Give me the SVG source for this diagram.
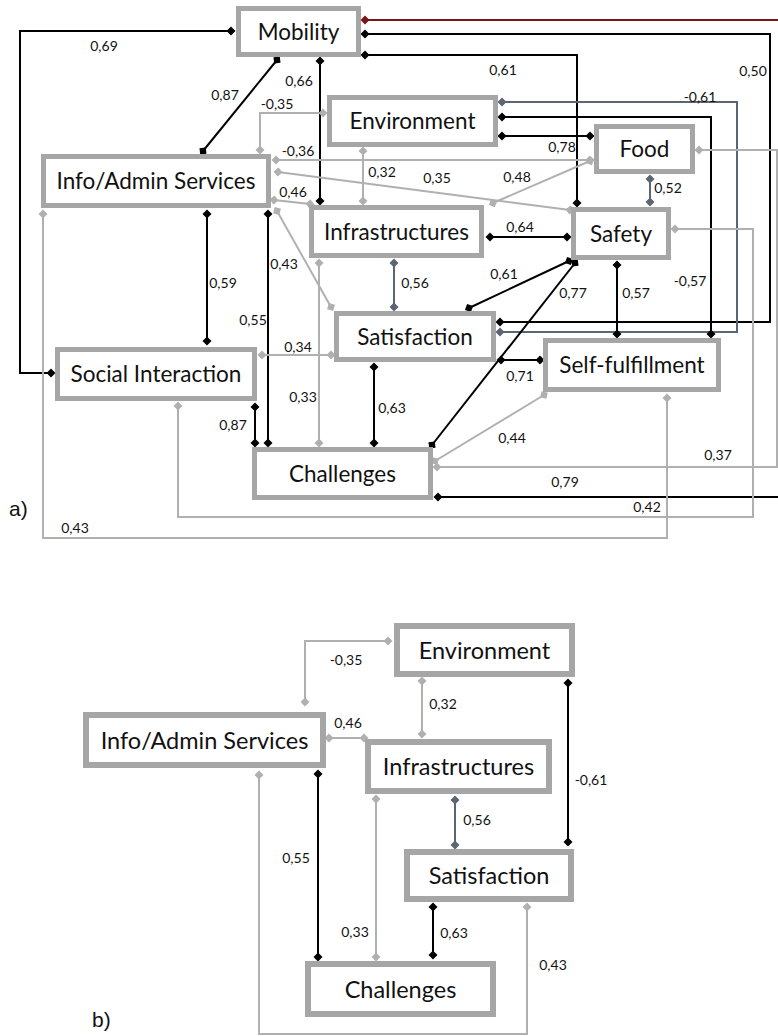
<svg xmlns="http://www.w3.org/2000/svg" width="778" height="1036" viewBox="0 0 778 1036">
<style>
.box{fill:#fff;stroke:#a6a6a6;stroke-width:5}
.boxb{fill:#fff;stroke:#a6a6a6;stroke-width:6}
.nt{font-family:Lato,"Open Sans",sans-serif;font-size:22.5px;fill:#111;text-anchor:middle}
.ntb{font-family:Lato,"Open Sans",sans-serif;font-size:23.5px;fill:#111;text-anchor:middle}
.lb{font-family:Lato,"Open Sans",sans-serif;font-size:14px;fill:#111;text-anchor:middle}
.pl{font-family:"Liberation Sans",Arial,sans-serif;font-size:21px;fill:#111}
.k{fill:none;stroke:#000;stroke-width:2;marker-start:url(#mk);marker-end:url(#mk)}
.g{fill:none;stroke:#b0b0b0;stroke-width:2;marker-start:url(#mg);marker-end:url(#mg)}
.s{fill:none;stroke:#5c6572;stroke-width:2;marker-start:url(#ms);marker-end:url(#ms)}
.r{fill:none;stroke:#7a1515;stroke-width:2;marker-start:url(#mr)}
.k1{fill:none;stroke:#000;stroke-width:2;marker-start:url(#mk)}
</style>
<defs>
<marker id="mk" viewBox="-5 -5 10 10" refX="0" refY="0" markerWidth="10" markerHeight="10" markerUnits="userSpaceOnUse" orient="auto"><path d="M-4.5,0L0,-4.5L4.5,0L0,4.5Z" fill="#000"/></marker>
<marker id="mg" viewBox="-5 -5 10 10" refX="0" refY="0" markerWidth="10" markerHeight="10" markerUnits="userSpaceOnUse" orient="auto"><path d="M-4.5,0L0,-4.5L4.5,0L0,4.5Z" fill="#b0b0b0"/></marker>
<marker id="ms" viewBox="-5 -5 10 10" refX="0" refY="0" markerWidth="10" markerHeight="10" markerUnits="userSpaceOnUse" orient="auto"><path d="M-4.5,0L0,-4.5L4.5,0L0,4.5Z" fill="#5c6572"/></marker>
<marker id="mr" viewBox="-5 -5 10 10" refX="0" refY="0" markerWidth="10" markerHeight="10" markerUnits="userSpaceOnUse" orient="auto"><path d="M-4.5,0L0,-4.5L4.5,0L0,4.5Z" fill="#7a1515"/></marker>
</defs>
<rect width="778" height="1036" fill="#fff"/>

<g id="connectors">
<!-- part a -->
<path class="k" d="M231,31H20V373H51"/>
<path class="k" d="M277,60L203,151"/>
<path class="k" d="M320,61V201"/>
<path class="k" d="M365,55H577V203"/>
<path class="k" d="M365,34H770V322H500"/>
<path class="r" d="M365,20H778"/>
<path class="g" d="M260,150V113H323"/>
<path class="g" d="M363,151V201"/>
<path class="s" d="M502,102H737V332H500"/>
<path class="k" d="M502,117H711V334"/>
<path class="k" d="M502,136H590"/>
<path class="g" d="M276,160H590"/>
<path class="g" d="M493,203L590,161"/>
<path class="g" d="M278,172L570,210"/>
<path class="g" d="M274,200L310,204"/>
<path class="g" d="M277,211L331,307"/>
<path class="k" d="M207,214V341"/>
<path class="k" d="M268,214V443"/>
<path class="k" d="M255,407V443"/>
<path class="g" d="M262,355H331"/>
<path class="g" d="M319,263V443"/>
<path class="k" d="M490,237H567"/>
<path class="s" d="M394,263V307"/>
<path class="k" d="M569,261L469,308"/>
<path class="k" d="M575,263L432,445"/>
<path class="s" d="M650,179V202"/>
<path class="k" d="M617,265V334"/>
<path class="k" d="M374,367V443"/>
<path class="k" d="M501,360H540"/>
<path class="g" d="M544,395L435,461"/>
<path class="g" d="M699,150H777V467H437"/>
<path class="k1" d="M438,497H778"/>
<path class="g" d="M675,229H753V517H178V406"/>
<path class="g" d="M667,398V538H43V214"/>
<!-- part b -->
<path class="g" d="M305,702V641H388"/>
<path class="g" d="M422,681V734"/>
<path class="g" d="M329,738H364"/>
<path class="k" d="M568,683V842"/>
<path class="s" d="M455,800V845"/>
<path class="k" d="M318,774V957"/>
<path class="g" d="M376,799V957"/>
<path class="k" d="M433,907V955"/>
<path class="g" d="M527,907V1034H259V775"/>
</g>

<g id="mobility"><rect class="box" x="238.5" y="8.5" width="120" height="46"/><text class="nt" x="298.5" y="39.5">Mobility</text></g>
<g id="environment"><rect class="box" x="329.5" y="97.5" width="166" height="47"/><text class="nt" x="412.5" y="129">Environment</text></g>
<g id="food"><rect class="box" x="596.5" y="126.5" width="96" height="45"/><text class="nt" x="644.5" y="157">Food</text></g>
<g id="info"><rect class="box" x="43.5" y="156.5" width="225" height="49"/><text class="nt" x="156" y="189">Info/Admin Services</text></g>
<g id="infrastructures"><rect class="box" x="311.5" y="207.5" width="170" height="48"/><text class="nt" x="396.5" y="239.5">Infrastructures</text></g>
<g id="safety"><rect class="box" x="573.5" y="209.5" width="95" height="48"/><text class="nt" x="621" y="241.5">Safety</text></g>
<g id="satisfaction"><rect class="box" x="336.5" y="313.5" width="157" height="46"/><text class="nt" x="415" y="344.5">Satisfaction</text></g>
<g id="social"><rect class="box" x="57.5" y="349.5" width="197" height="49"/><text class="nt" x="156" y="382">Social Interaction</text></g>
<g id="selffulfillment"><rect class="box" x="545.5" y="340.5" width="173" height="49"/><text class="nt" x="632" y="373">Self-fulfillment</text></g>
<g id="challenges"><rect class="box" x="254.5" y="449.5" width="176" height="48"/><text class="nt" x="342.5" y="481.5">Challenges</text></g>

<g id="environment-b"><rect class="boxb" x="397" y="626" width="175" height="48"/><text class="ntb" x="484.5" y="658.5">Environment</text></g>
<g id="info-b"><rect class="boxb" x="86" y="715" width="237" height="50"/><text class="ntb" x="204.5" y="748.5">Info/Admin Services</text></g>
<g id="infrastructures-b"><rect class="boxb" x="368" y="742" width="181" height="49"/><text class="ntb" x="458.5" y="775">Infrastructures</text></g>
<g id="satisfaction-b"><rect class="boxb" x="407" y="852" width="164" height="47"/><text class="ntb" x="489" y="884">Satisfaction</text></g>
<g id="challenges-b"><rect class="boxb" x="308" y="964" width="185" height="50"/><text class="ntb" x="400.5" y="997.5">Challenges</text></g>

<g id="labels">
<text class="lb" x="104" y="51">0,69</text>
<text class="lb" x="225" y="100">0,87</text>
<text class="lb" x="299" y="86">0,66</text>
<text class="lb" x="277" y="109">-0,35</text>
<text class="lb" x="503" y="75">0,61</text>
<text class="lb" x="753" y="76">0,50</text>
<text class="lb" x="700" y="102">-0,61</text>
<text class="lb" x="562" y="152">0,78</text>
<text class="lb" x="298" y="156">-0,36</text>
<text class="lb" x="382" y="177">0,32</text>
<text class="lb" x="437" y="183">0,35</text>
<text class="lb" x="517" y="182">0,48</text>
<text class="lb" x="668" y="193">0,52</text>
<text class="lb" x="293" y="197">0,46</text>
<text class="lb" x="520" y="232">0,64</text>
<text class="lb" x="284" y="269">0,43</text>
<text class="lb" x="415" y="288">0,56</text>
<text class="lb" x="504" y="279">0,61</text>
<text class="lb" x="573" y="298">0,77</text>
<text class="lb" x="636" y="298">0,57</text>
<text class="lb" x="690" y="286">-0,57</text>
<text class="lb" x="223" y="288">0,59</text>
<text class="lb" x="253" y="325">0,55</text>
<text class="lb" x="298" y="352">0,34</text>
<text class="lb" x="520" y="381">0,71</text>
<text class="lb" x="303" y="402">0,33</text>
<text class="lb" x="392" y="413">0,63</text>
<text class="lb" x="233" y="430">0,87</text>
<text class="lb" x="512" y="443">0,44</text>
<text class="lb" x="718" y="460">0,37</text>
<text class="lb" x="565" y="487">0,79</text>
<text class="lb" x="647" y="512">0,42</text>
<text class="lb" x="75" y="533">0,43</text>
<text class="lb" x="346" y="665">-0,35</text>
<text class="lb" x="443" y="709">0,32</text>
<text class="lb" x="348" y="728">0,46</text>
<text class="lb" x="591" y="785">-0,61</text>
<text class="lb" x="477" y="825">0,56</text>
<text class="lb" x="296" y="863">0,55</text>
<text class="lb" x="355" y="937">0,33</text>
<text class="lb" x="454" y="938">0,63</text>
<text class="lb" x="553" y="970">0,43</text>
<text class="pl" x="9" y="516">a)</text>
<text class="pl" x="92" y="1027">b)</text>
</g>
</svg>
